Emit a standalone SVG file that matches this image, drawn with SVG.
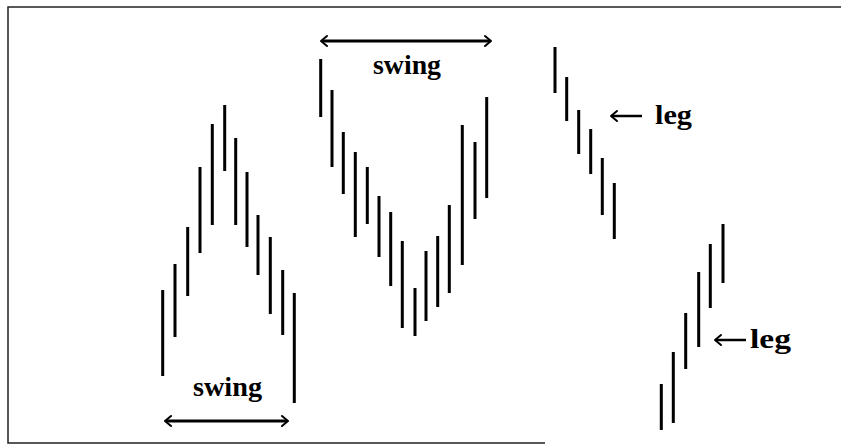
<svg xmlns="http://www.w3.org/2000/svg" width="841" height="445" viewBox="0 0 841 445">
<defs>
<style>
.bar{stroke:#000;stroke-width:3;fill:none}
.arr{stroke:#000;stroke-width:3;fill:none}
.head{stroke:#000;stroke-width:2;fill:none;stroke-linecap:round;stroke-linejoin:round}
.lbl{font-family:"Liberation Serif","Times New Roman",serif;font-weight:bold;font-size:28px;fill:#000}
.frame{stroke:#222;stroke-width:1.5;fill:none}
</style>
</defs>
<rect width="841" height="445" fill="#fff"/>
<g id="frame">
<path class="frame" d="M841,7 H8 V443 H545"/>
</g>
<g id="swing-up-down">
<path class="bar" d="M162.7,290V376 M175,264V337 M187.7,227V296 M200,167V253 M212.3,124V225 M224.7,105V171 M235.7,138V225 M247,172V247 M258,215V275 M270.3,237V314 M282.7,270V335 M294.3,293V403"/>
</g>
<g id="swing-down-up">
<path class="bar" d="M320.7,59V117 M332,90V167 M343.3,132V194 M355.3,152V237 M367.3,167V224 M379,196V257 M390.7,212V286 M402.3,241V328 M415,288V336 M426,251V321 M437.7,236V307 M449.3,205V293 M462.3,125V265 M475,142V219 M486.7,97V198"/>
</g>
<g id="leg-down">
<path class="bar" d="M555,47V93 M566.7,77V121 M578.7,110V154 M590.7,129V174 M602.3,158V215 M614.3,183V239"/>
</g>
<g id="leg-up">
<path class="bar" d="M661.3,384V430 M673.3,352V423 M685.7,313V369 M698.7,272V347 M710.3,244V308 M723,224V283"/>
</g>
<g id="connectors">
<g id="swing-arrow-top">
<path class="arr" d="M322,41H490"/>
<path class="head" d="M327,36L321,41L327,46 M485,36L491,41L485,46"/>
</g>
<g id="swing-arrow-bottom">
<path class="arr" d="M166,421H287"/>
<path class="head" d="M171,416L165,421L171,426 M282,416L288,421L282,426"/>
</g>
<g id="leg-arrow-1">
<path class="arr" d="M612,116H642" style="stroke-width:2.5"/>
<path class="head" d="M617,111L611,116L617,121"/>
</g>
<g id="leg-arrow-2">
<path class="arr" d="M716,340H746" style="stroke-width:2.5"/>
<path class="head" d="M721,335L715,340L721,345"/>
</g>
</g>
<g id="labels">
<text class="lbl" x="407" y="74" text-anchor="middle" textLength="68" lengthAdjust="spacingAndGlyphs">swing</text>
<text class="lbl" x="227.5" y="396" text-anchor="middle" textLength="69" lengthAdjust="spacingAndGlyphs">swing</text>
<text class="lbl" x="655" y="124" textLength="37" lengthAdjust="spacingAndGlyphs">leg</text>
<text class="lbl" x="750" y="348" textLength="41" lengthAdjust="spacingAndGlyphs">leg</text>
</g>
</svg>
